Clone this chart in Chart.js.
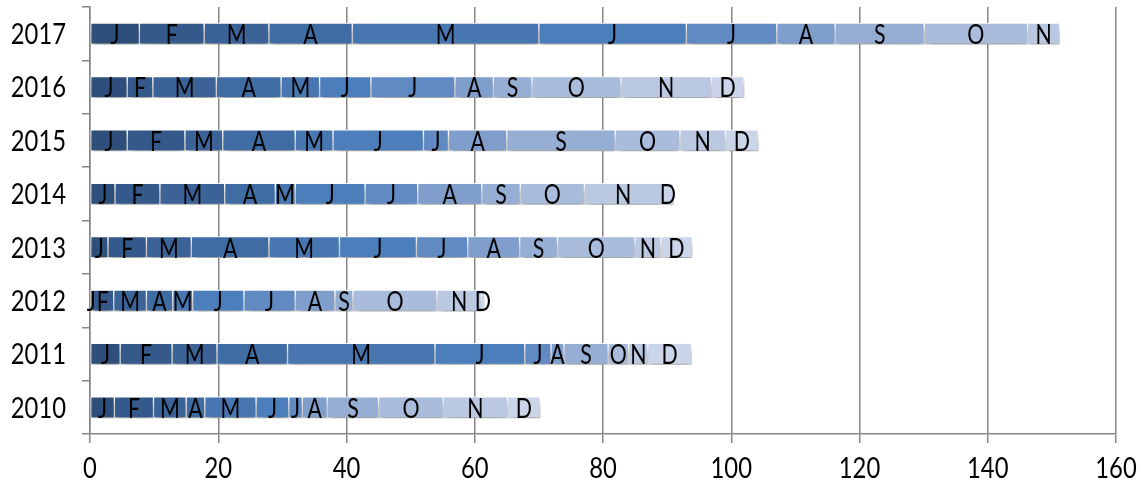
<!DOCTYPE html>
<html>
<head>
<meta charset="utf-8">
<script src="https://cdn.jsdelivr.net/npm/chart.js@4/dist/chart.umd.min.js"></script>
<style>
html,body{margin:0;padding:0;background:#fff;}
#wrap{width:1143px;height:485px;position:relative;}
</style>
</head>
<body>
<div id="wrap"><canvas id="c"></canvas></div>
<script>
const years = ['2017','2016','2015','2014','2013','2012','2011','2010'];
const months = ['J','F','M','A','M','J','J','A','S','O','N','D'];
const xTicks = [0,20,40,60,80,100,120,140,160];

const v2017 = [7.7,10.1,10.1,13.0,29.1,23.0,14.1,9.1,13.9,16.1,5.0,0];
const v2016 = [5.8,4.0,9.9,10.1,6.0,8.0,13.1,6.0,6.0,13.9,14.1,5.1];
const v2015 = [5.8,9.0,5.9,11.3,5.9,14.1,3.9,9.1,16.9,10.1,7.1,5.1];
const v2014 = [3.9,7.0,10.1,7.9,3.1,10.9,8.2,10.0,6.0,10.0,12.1,1.8];
const v2013 = [2.8,6.0,7.0,12.1,11.0,12.0,8.0,8.1,5.9,12.1,4.0,4.9];
const v2012 = [0.3,3.4,5.1,4.1,3.1,8.0,8.0,6.2,2.8,13.1,6.9,0.5];
const v2011 = [4.7,8.1,7.0,11.0,23.0,14.0,4.1,2.0,6.9,3.2,3.0,6.8];
const v2010 = [3.8,6.1,5.1,2.9,8.0,5.1,2.1,3.9,8.0,10.1,10.0,5.1];

const monthColors = ['#2E4F79','#35598A','#3B6397','#406CA4','#4776B0','#4B7EBB','#6189C2','#809ECB','#97AED4','#A9BCDC','#BAC8E2','#CBD5E9'];

const byYear = [v2017,v2016,v2015,v2014,v2013,v2012,v2011,v2010];
const FONT = "Lato,'Open Sans',sans-serif";
const SQUEEZE = 0.82;

function squeezedText(ctx, txt, x, y, align, size){
  ctx.save();
  ctx.font = size + "px " + FONT;
  ctx.translate(x, y);
  ctx.scale(SQUEEZE, 1);
  ctx.textAlign = align;
  ctx.textBaseline = 'middle';
  ctx.fillStyle = '#000';
  ctx.fillText(txt, 0, 0);
  ctx.restore();
}

const datasets = months.map((m,i)=>({
  label: m,
  data: byYear.map(arr=>arr[i]),
  backgroundColor: monthColors[i],
  borderColor: '#ffffff',
  borderWidth: 1,
  borderSkipped: false,
  barThickness: 21
}));

const textPlugin = {
  id:'texts',
  beforeDatasetsDraw(chart){
    const ctx = chart.ctx;
    ctx.save();
    ctx.shadowColor = 'rgba(0,0,0,0.38)';
    ctx.shadowBlur = 7;
    ctx.shadowOffsetX = 1;
    ctx.shadowOffsetY = 6;
  },
  afterDatasetsDraw(chart){
    chart.ctx.restore();
    const ctx = chart.ctx;
    chart.data.datasets.forEach((ds,di)=>{
      const meta = chart.getDatasetMeta(di);
      meta.data.forEach((el,i)=>{
        const v = ds.data[i];
        if (!v) return;
        const cx = (el.x + el.base)/2;
        squeezedText(ctx, ds.label, cx, el.y + 2, 'center', 26);
      });
    });
  },
  afterDraw(chart){
    const ctx = chart.ctx;
    const xs = chart.scales.x, ys = chart.scales.y;
    xTicks.forEach(v=>{
      squeezedText(ctx, String(v), xs.getPixelForValue(v), 469, 'center', 29);
    });
    years.forEach((y,i)=>{
      squeezedText(ctx, y, 66, ys.getPixelForValue(i) + 1, 'right', 29);
    });
  }
};

new Chart(document.getElementById('c'), {
  type:'bar',
  data:{labels:years, datasets},
  options:{
    indexAxis:'y',
    responsive:true,
    maintainAspectRatio:false,
    animation:false,
    layout:{padding:{top:7,right:27,left:0,bottom:0}},
    plugins:{legend:{display:false},tooltip:{enabled:false}},
    scales:{
      x:{
        stacked:true,
        min:0,max:160,
        afterBuildTicks(scale){ scale.ticks = xTicks.map(v=>({value:v})); },
        afterFit(scale){ scale.height = 51; },
        grid:{color:'#868686',lineWidth:1.5,tickLength:9,drawTicks:true},
        border:{color:'#868686',width:1.5},
        ticks:{display:false}
      },
      y:{
        stacked:true,
        afterFit(scale){ scale.width = 90; },
        grid:{display:true,drawOnChartArea:false,offset:true,tickLength:8,color:'#868686',lineWidth:1.5},
        border:{color:'#868686',width:1.5},
        ticks:{display:false}
      }
    }
  },
  plugins:[textPlugin]
});
</script>
</body>
</html>
